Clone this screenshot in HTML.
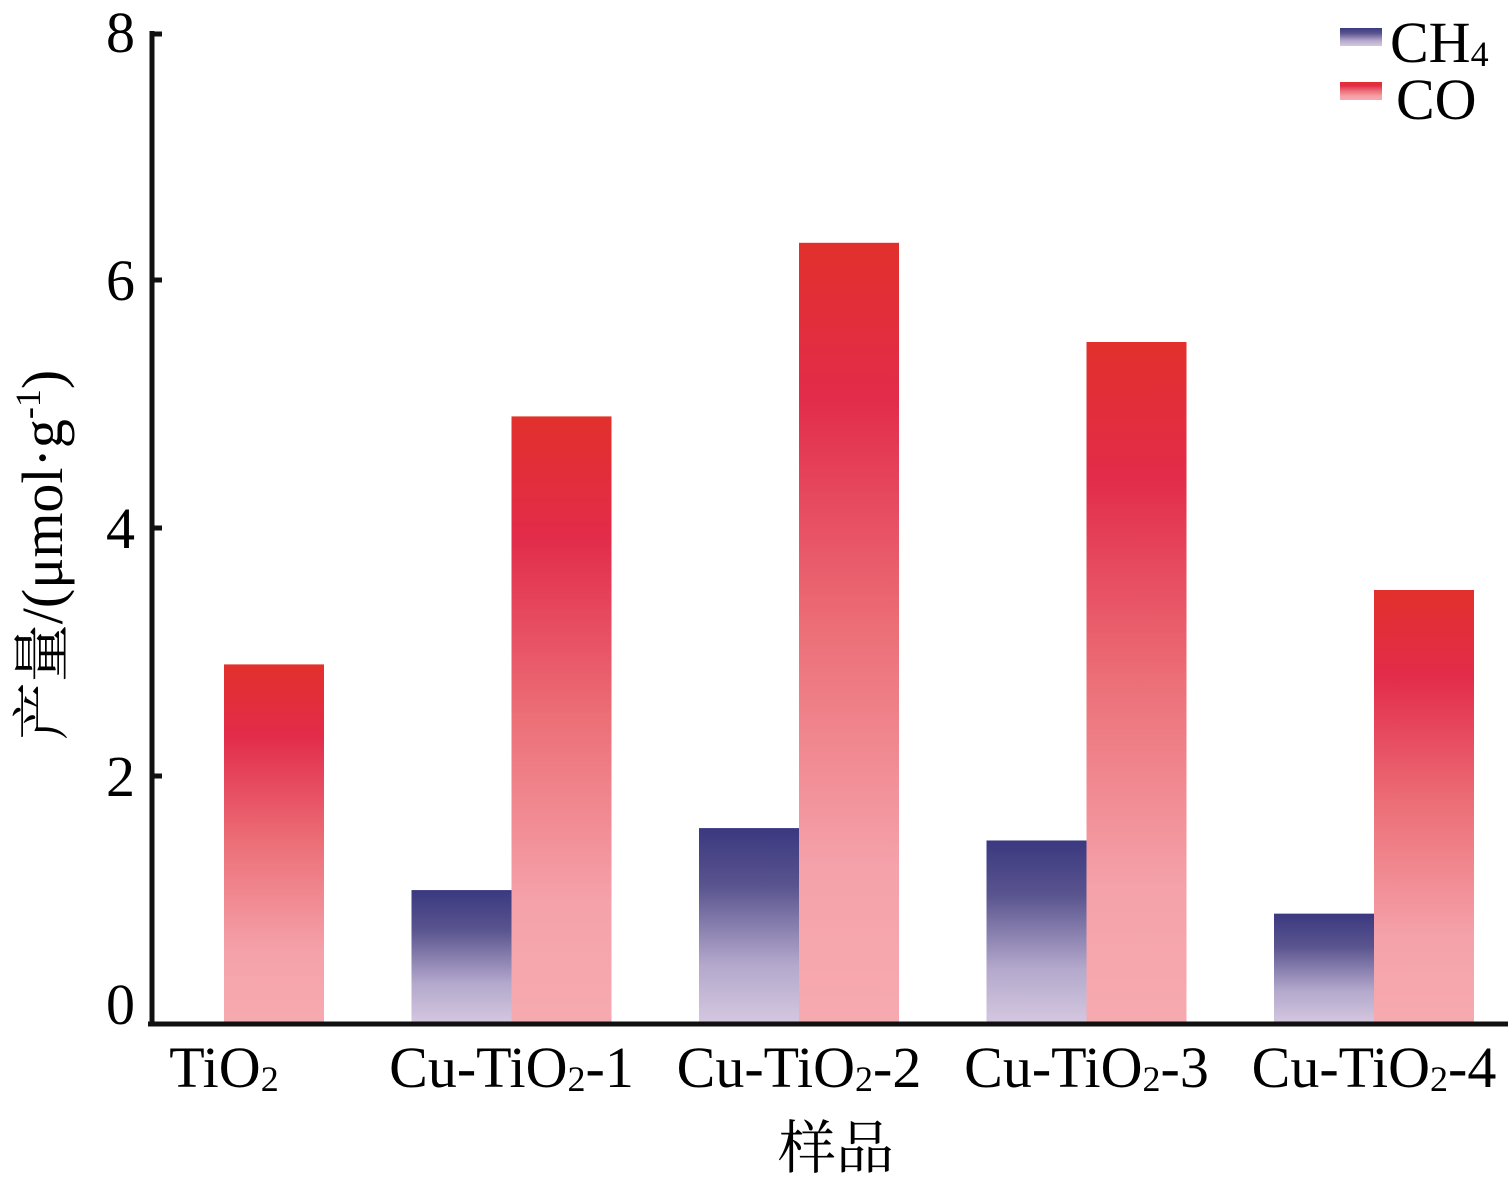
<!DOCTYPE html>
<html><head><meta charset="utf-8"><style>
body{margin:0;background:#fff}
svg{display:block;font-family:"Liberation Serif","Noto Serif CJK SC",serif}
</style></head><body>
<svg width="1512" height="1181" viewBox="0 0 1512 1181">
<defs>
<linearGradient id="gco" x1="0" y1="0" x2="0" y2="1">
<stop offset="0" stop-color="#e2302c"/><stop offset="0.2" stop-color="#e22c4a"/><stop offset="0.5" stop-color="#ec7078"/><stop offset="0.8" stop-color="#f5a2aa"/><stop offset="1" stop-color="#f6aab0"/></linearGradient>
<linearGradient id="gch" x1="0" y1="0" x2="0" y2="1">
<stop offset="0" stop-color="#3a3880"/><stop offset="0.3" stop-color="#5a558f"/><stop offset="0.7" stop-color="#b4a8cc"/><stop offset="1" stop-color="#d4c8e0"/></linearGradient>
</defs>
<g id="bars"></g>
<line x1="152" y1="31" x2="152" y2="1026" stroke="#111" stroke-width="5"/>
<line x1="148" y1="1024" x2="1508" y2="1024" stroke="#111" stroke-width="5"/>
<g id="yticks"></g>
<g id="xlabels"></g>
<text x="836" y="1168" font-size="58" text-anchor="middle">样品</text>
<text transform="translate(62,555) rotate(-90)" font-size="58" text-anchor="middle">产量/(μmol·g<tspan font-size="36" dy="-22">-1</tspan><tspan dy="22">)</tspan></text>
<g>
<rect x="1340" y="28" width="42" height="18" fill="url(#gch)"/>
<text x="1390" y="62" font-size="58">CH<tspan font-size="36" dy="4">4</tspan></text>
<rect x="1340" y="82" width="42" height="18" fill="url(#gco)"/>
<text x="1396" y="119" font-size="58">CO</text>
</g>
</svg>
<script>
const categories=["TiO2","Cu-TiO2-1","Cu-TiO2-2","Cu-TiO2-3","Cu-TiO2-4"];
const ch4Values=[0,1.08,1.58,1.48,0.89];
const coValues=[2.9,4.9,6.3,5.5,3.5];
const yTicks=[0,2,4,6,8];
const NS="http://www.w3.org/2000/svg";
const y=v=>1024-v*124;
const gx=i=>224+i*287.5;
const bw=100;
const bars=document.getElementById('bars');
function mk(t,a,p){const e=document.createElementNS(NS,t);for(const k in a)e.setAttribute(k,a[k]);p.appendChild(e);return e;}
categories.forEach((c,i)=>{
  if(ch4Values[i]>0){
    const r=mk('rect',{x:gx(i)-bw,y:y(ch4Values[i]),width:bw,height:1024-y(ch4Values[i]),fill:'url(#gch)'},bars);
    
    
  }
  const r2=mk('rect',{x:gx(i),y:y(coValues[i]),width:bw,height:1024-y(coValues[i]),fill:'url(#gco)'},bars);
  
  
  const m=c.match(/^(.*TiO)2(.*)$/);
  const t=mk('text',{x:gx(i),y:1087,'font-size':58,'text-anchor':'middle'},document.getElementById('xlabels'));
  
  
  t.appendChild(document.createTextNode(m[1]));
  const s=mk('tspan',{'font-size':36,dy:4},t);s.textContent='2';
  const s2=mk('tspan',{dy:-4},t);s2.textContent=m[2];
});
const yt=document.getElementById('yticks');
yTicks.forEach(v=>{
  const l=mk('line',{x1:150,x2:162,y1:y(v)+(v===8?2:0),y2:y(v)+(v===8?2:0),stroke:'#111','stroke-width':5},yt);
  
  
  const t=mk('text',{x:135,y:y(v)+(v===0?0:20),'font-size':58,'text-anchor':'end'},yt);
  
  
  t.textContent=v;
});
</script>
</body></html>
